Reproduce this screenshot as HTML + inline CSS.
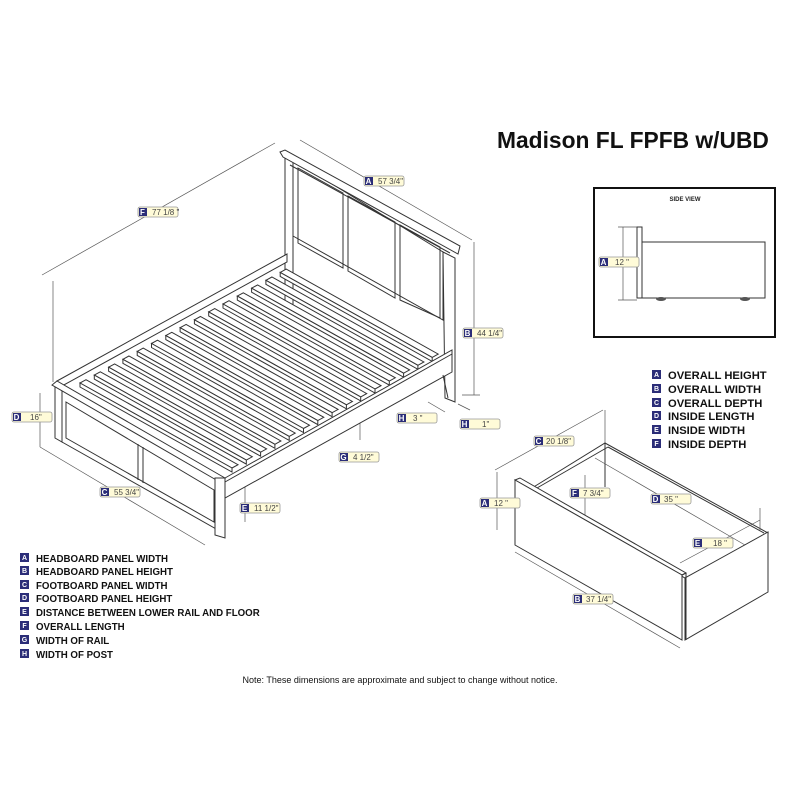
<!DOCTYPE html>
<html><head><meta charset="utf-8"><style>
html,body{margin:0;padding:0;background:#fff;}
svg{display:block;font-family:"Liberation Sans",Arial,sans-serif;}
.l{fill:none;stroke:#333;stroke-width:1;}
.w{fill:#fff;stroke:#333;stroke-width:1;}
.d{fill:none;stroke:#555;stroke-width:0.7;}
.lt{font-size:8px;fill:#444;}
.lg{font-size:9.7px;font-weight:bold;fill:#111;}
.lg2{font-size:11.2px;font-weight:bold;fill:#111;}
.sq{fill:#2b2d78;}
.sl{font-size:8px;font-weight:bold;fill:#fff;}
</style></head><body>
<svg width="800" height="800" viewBox="0 0 800 800" xmlns="http://www.w3.org/2000/svg">
<defs>
<g id="slat">
<polygon class="w" points="80,383 86,379.7 238,464.7 232,468"/>
<polygon class="w" points="80,383 232,468 232,472 80,387"/>
</g>
<g id="lab">
<rect x="0" y="0" width="40" height="10" rx="2" fill="#fffbd8" stroke="#999" stroke-width="0.8"/>
<rect x="1" y="1" width="8" height="8" class="sq"/>
</g>
</defs>

<text x="497" y="148" font-size="22.8" font-weight="bold" fill="#111">Madison FL FPFB w/UBD</text>

<!-- dimension lines bed -->
<line class="d" x1="42" y1="275" x2="275" y2="143"/>
<line class="d" x1="53" y1="281" x2="53" y2="382"/>
<line class="d" x1="300" y1="140" x2="472" y2="240"/>
<line class="d" x1="474" y1="242" x2="474" y2="395"/>
<line class="d" x1="462" y1="395" x2="480" y2="395"/>
<line class="d" x1="40" y1="393" x2="40" y2="447"/>
<line class="d" x1="40" y1="447" x2="205" y2="545"/>
<line class="d" x1="245" y1="485" x2="245" y2="522"/>
<line class="d" x1="360" y1="420" x2="360" y2="440"/>
<line class="d" x1="428" y1="402" x2="445" y2="412"/>
<line class="d" x1="458" y1="404" x2="470" y2="410"/>

<!-- headboard -->
<polygon class="w" points="285,158 293,160 293,310 285,306"/>
<polygon class="w" points="443,252 455,258 455,402 445,398"/>
<polygon class="w" points="293,160 443,252 443,320 293,236"/>
<polygon class="l" points="298,168 343,193 343,268 298,243"/>
<polygon class="l" points="348,196 395,222 395,298 348,271"/>
<polygon class="l" points="400,225 440,247 440,318 400,300"/>
<polygon class="w" points="280,152 285,150 460,246 458,254 283,157"/>
<line class="l" x1="290" y1="165" x2="450" y2="253"/>

<!-- far rail -->
<polygon class="w" points="57,381 287,254 287,262 62,386"/>
<!-- slats -->
<use href="#slat"/>
<use href="#slat" transform="translate(14.3,-7.9)"/>
<use href="#slat" transform="translate(28.6,-15.8)"/>
<use href="#slat" transform="translate(42.9,-23.7)"/>
<use href="#slat" transform="translate(57.2,-31.6)"/>
<use href="#slat" transform="translate(71.5,-39.5)"/>
<use href="#slat" transform="translate(85.8,-47.4)"/>
<use href="#slat" transform="translate(100.1,-55.3)"/>
<use href="#slat" transform="translate(114.4,-63.2)"/>
<use href="#slat" transform="translate(128.7,-71.1)"/>
<use href="#slat" transform="translate(143,-79)"/>
<use href="#slat" transform="translate(157.3,-86.9)"/>
<use href="#slat" transform="translate(171.6,-94.8)"/>
<use href="#slat" transform="translate(185.9,-102.7)"/>
<use href="#slat" transform="translate(200.2,-110.6)"/>
<!-- near rail -->
<polygon class="w" points="225,478 452,350 452,372 225,498"/>
<line class="l" x1="225" y1="482" x2="452" y2="354"/>
<!-- footboard -->
<polygon class="w" points="62,386 218,478 218,530 62,442"/>
<polygon class="l" points="66,402 214,490 214,522 66,438"/>
<line class="l" x1="138" y1="444" x2="138" y2="480"/>
<line class="l" x1="143" y1="447" x2="143" y2="483"/>
<polygon class="w" points="55,383 62,386 62,442 55,438"/>
<polygon class="w" points="57,381 225,478 218,481 52,385"/>
<polygon class="w" points="215,478 225,478 225,538 215,535"/>
<line class="l" x1="443" y1="375" x2="448" y2="398"/>

<!-- bed labels -->
<use href="#lab" x="138" y="207"/><text class="sl" x="142.5" y="215" text-anchor="middle">F</text><text class="lt" x="152" y="215">77 1/8 "</text>
<use href="#lab" x="364" y="176"/><text class="sl" x="368.5" y="184" text-anchor="middle">A</text><text class="lt" x="378" y="184">57 3/4"</text>
<use href="#lab" x="463" y="328"/><text class="sl" x="467.5" y="336" text-anchor="middle">B</text><text class="lt" x="477" y="336">44 1/4"</text>
<use href="#lab" x="12" y="412"/><text class="sl" x="16.5" y="420" text-anchor="middle">D</text><text class="lt" x="30" y="420">16"</text>
<use href="#lab" x="100" y="487"/><text class="sl" x="104.5" y="495" text-anchor="middle">C</text><text class="lt" x="114" y="495">55 3/4"</text>
<use href="#lab" x="240" y="503"/><text class="sl" x="244.5" y="511" text-anchor="middle">E</text><text class="lt" x="254" y="511">11 1/2"</text>
<use href="#lab" x="339" y="452"/><text class="sl" x="343.5" y="460" text-anchor="middle">G</text><text class="lt" x="353" y="460">4 1/2"</text>
<use href="#lab" x="397" y="413"/><text class="sl" x="401.5" y="421" text-anchor="middle">H</text><text class="lt" x="413" y="421">3 "</text>
<use href="#lab" x="460" y="419"/><text class="sl" x="464.5" y="427" text-anchor="middle">H</text><text class="lt" x="482" y="427">1"</text>

<!-- side view -->
<rect x="594" y="188" width="181" height="149" fill="#fff" stroke="#111" stroke-width="2"/>
<text x="685" y="201" font-size="6" font-weight="bold" text-anchor="middle" fill="#222">SIDE VIEW</text>
<rect class="w" x="637" y="227" width="5" height="71"/>
<rect class="w" x="642" y="242" width="123" height="56"/>
<ellipse cx="661" cy="299" rx="5" ry="2" fill="#555"/>
<ellipse cx="745" cy="299" rx="5" ry="2" fill="#555"/>
<line class="d" x1="623" y1="227" x2="623" y2="300"/>
<line class="d" x1="618" y1="227" x2="637" y2="227"/>
<line class="d" x1="618" y1="300" x2="637" y2="300"/>
<use href="#lab" x="599" y="257"/><text class="sl" x="603.5" y="265" text-anchor="middle">A</text><text class="lt" x="615" y="265">12 "</text>

<!-- right legend -->
<g class="lg2">
<rect class="sq" x="652" y="370" width="9" height="9"/><text x="668" y="379">OVERALL HEIGHT</text>
<rect class="sq" x="652" y="384" width="9" height="9"/><text x="668" y="393">OVERALL WIDTH</text>
<rect class="sq" x="652" y="398" width="9" height="9"/><text x="668" y="407">OVERALL DEPTH</text>
<rect class="sq" x="652" y="411" width="9" height="9"/><text x="668" y="420">INSIDE LENGTH</text>
<rect class="sq" x="652" y="425" width="9" height="9"/><text x="668" y="434">INSIDE WIDTH</text>
<rect class="sq" x="652" y="439" width="9" height="9"/><text x="668" y="448">INSIDE DEPTH</text>
</g>
<g font-size="7" font-weight="bold" fill="#fff" text-anchor="middle">
<text x="656.5" y="377">A</text><text x="656.5" y="391">B</text><text x="656.5" y="405">C</text><text x="656.5" y="418">D</text><text x="656.5" y="432">E</text><text x="656.5" y="446">F</text>
</g>

<!-- drawer -->
<line class="d" x1="495" y1="470" x2="603" y2="410"/>
<line class="d" x1="605" y1="410" x2="605" y2="443"/>
<line class="d" x1="497" y1="472" x2="497" y2="530"/>
<line class="d" x1="515" y1="552" x2="680" y2="648"/>
<polygon class="w" points="532,488 605,443 768,533 685,578"/>
<line class="l" x1="605" y1="443" x2="605" y2="487"/>
<line class="l" x1="537" y1="488" x2="608" y2="447"/>
<line class="l" x1="608" y1="447" x2="764" y2="533"/>
<line class="d" x1="585" y1="475" x2="585" y2="515"/>
<line class="d" x1="595" y1="458" x2="745" y2="545"/>
<line class="d" x1="680" y1="563" x2="760" y2="520"/>
<line class="d" x1="760" y1="508" x2="760" y2="530"/>
<polygon class="w" points="685,578 768,532 768,592 685,640"/>
<polygon class="w" points="515,480 520,478 686,573 682,575"/>
<polygon class="w" points="515,480 682,575 682,640 515,545"/>
<line class="l" x1="682" y1="575" x2="686" y2="573"/>
<line class="l" x1="686" y1="573" x2="686" y2="640"/>
<use href="#lab" x="534" y="436"/><text class="sl" x="538.5" y="444" text-anchor="middle">C</text><text class="lt" x="546" y="444" font-size="6">20 1/8"</text>
<use href="#lab" x="480" y="498"/><text class="sl" x="484.5" y="506" text-anchor="middle">A</text><text class="lt" x="494" y="506">12 "</text>
<use href="#lab" x="570" y="488"/><text class="sl" x="574.5" y="496" text-anchor="middle">F</text><text class="lt" x="583" y="496">7 3/4"</text>
<use href="#lab" x="651" y="494"/><text class="sl" x="655.5" y="502" text-anchor="middle">D</text><text class="lt" x="664" y="502">35 "</text>
<use href="#lab" x="693" y="538"/><text class="sl" x="697.5" y="546" text-anchor="middle">E</text><text class="lt" x="713" y="546">18 "</text>
<use href="#lab" x="573" y="594"/><text class="sl" x="577.5" y="602" text-anchor="middle">B</text><text class="lt" x="586" y="602">37 1/4"</text>

<!-- left legend -->
<g class="lg">
<rect class="sq" x="20" y="553" width="9" height="9"/><text x="36" y="562">HEADBOARD PANEL WIDTH</text>
<rect class="sq" x="20" y="566" width="9" height="9"/><text x="36" y="575">HEADBOARD PANEL HEIGHT</text>
<rect class="sq" x="20" y="580" width="9" height="9"/><text x="36" y="589">FOOTBOARD PANEL WIDTH</text>
<rect class="sq" x="20" y="593" width="9" height="9"/><text x="36" y="602">FOOTBOARD PANEL HEIGHT</text>
<rect class="sq" x="20" y="607" width="9" height="9"/><text x="36" y="616">DISTANCE BETWEEN LOWER RAIL AND FLOOR</text>
<rect class="sq" x="20" y="621" width="9" height="9"/><text x="36" y="630">OVERALL LENGTH</text>
<rect class="sq" x="20" y="635" width="9" height="9"/><text x="36" y="644">WIDTH OF RAIL</text>
<rect class="sq" x="20" y="649" width="9" height="9"/><text x="36" y="658">WIDTH OF POST</text>
</g>
<g font-size="7" font-weight="bold" fill="#fff" text-anchor="middle">
<text x="24.5" y="560">A</text><text x="24.5" y="573">B</text><text x="24.5" y="587">C</text><text x="24.5" y="600">D</text><text x="24.5" y="614">E</text><text x="24.5" y="628">F</text><text x="24.5" y="642">G</text><text x="24.5" y="656">H</text>
</g>

<text x="400" y="683" font-size="9" text-anchor="middle" fill="#111">Note:  These dimensions are approximate and subject to change without notice.</text>
</svg>
</body></html>
